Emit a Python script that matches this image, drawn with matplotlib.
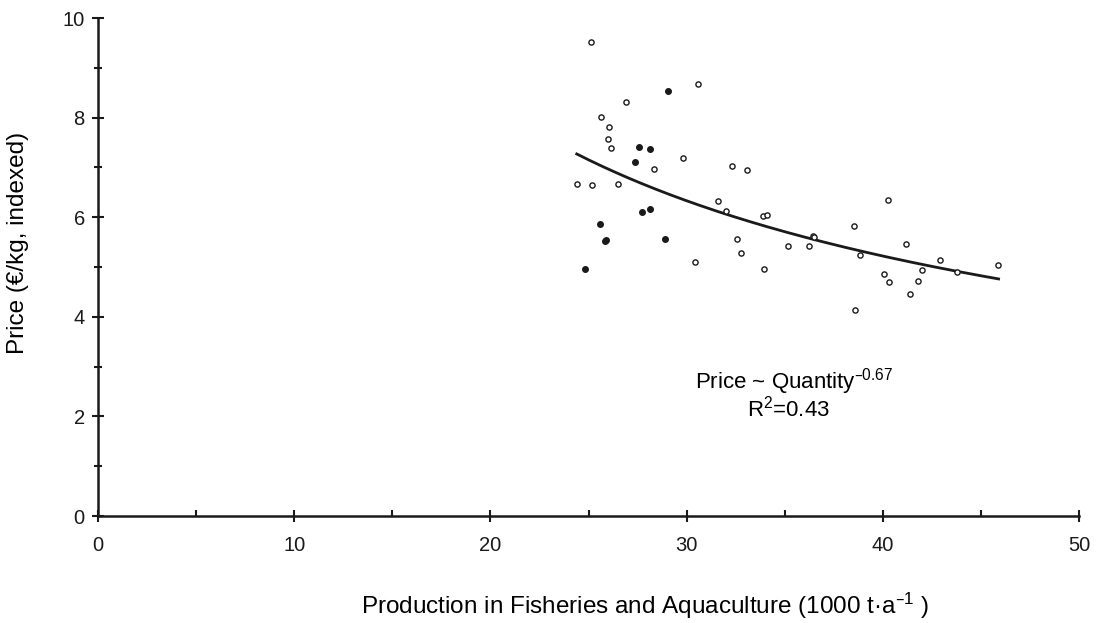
import matplotlib
matplotlib.use("Agg")
import matplotlib.pyplot as plt
import numpy as np

plt.rcParams['font.family'] = ['Liberation Sans', 'DejaVu Sans']
plt.rcParams['mathtext.default'] = 'regular'

# open circles
open_x = [25.13, 30.58, 26.89, 25.65, 26.03, 25.99, 26.13, 28.35, 29.80, 24.41,
          25.19, 26.49, 31.62, 32.02, 30.41, 32.31, 33.06, 33.87, 34.11, 32.55,
          32.76, 33.96, 35.15, 36.24, 36.43, 36.51, 40.27, 38.55, 38.82, 38.60,
          41.18, 40.08, 40.33, 41.40, 41.78, 42.00, 42.90, 43.80, 45.85]
open_y = [9.52, 8.68, 8.31, 8.01, 7.81, 7.58, 7.38, 6.97, 7.18, 6.66,
          6.64, 6.66, 6.33, 6.12, 5.10, 7.03, 6.95, 6.02, 6.04, 5.56,
          5.28, 4.97, 5.43, 5.42, 5.63, 5.60, 6.34, 5.83, 5.25, 4.13,
          5.46, 4.85, 4.69, 4.46, 4.72, 4.95, 5.14, 4.90, 5.04]

# filled circles
filled_x = [29.04, 27.57, 28.15, 27.37, 27.71, 28.13, 25.59, 25.89, 25.82, 28.88, 24.84]
filled_y = [8.54, 7.40, 7.36, 7.10, 6.10, 6.17, 5.86, 5.55, 5.52, 5.56, 4.97]

# power-law fit, Price ~ Quantity^-0.67
fit_exp = -0.67
fit_start, fit_end = 24.4, 45.9
fit_start_price = 7.27

fig = plt.figure(figsize=(11.05, 6.23), dpi=100)
ax = fig.add_axes([0.0887, 0.1717, 0.8878, 0.7994])

q = np.linspace(fit_start, fit_end, 200)
ax.plot(q, fit_start_price * (q / fit_start) ** fit_exp, color='#1a1a1a', lw=2.0, zorder=2)

ax.scatter(open_x, open_y, s=14, facecolors='white', edgecolors='#1a1a1a', linewidths=1.0, zorder=3)
ax.scatter(filled_x, filled_y, s=16, color='#1a1a1a', zorder=3)

ax.text(35.5, 2.57, 'Price ~ Quantity$^{\u20130.67}$', ha='center', va='baseline', fontsize=16)
ax.text(35.2, 1.99, 'R$^{2}$=0.43', ha='center', va='baseline', fontsize=16)

ax.set_xlim(0, 50)
ax.set_ylim(0, 10)
ax.set_xticks(range(0, 51, 10))
ax.set_xticks(range(5, 50, 10), minor=True)
ax.set_yticks(range(0, 11, 2))
ax.set_yticks(range(1, 10, 2), minor=True)

for s in ['top', 'right']:
    ax.spines[s].set_visible(False)
for s in ['left', 'bottom']:
    ax.spines[s].set_linewidth(1.8)
    ax.spines[s].set_color('#1a1a1a')

ax.tick_params(which='major', direction='inout', length=9, width=1.5, labelsize=14.5, colors='#1a1a1a')
ax.tick_params(which='minor', direction='inout', length=6, width=1.5, colors='#1a1a1a')
ax.tick_params(axis='x', which='minor', direction='in', length=4)
ax.tick_params(axis='x', which='major', pad=10)
ax.tick_params(axis='y', which='major', pad=5)

ax.set_xlabel('Production in Fisheries and Aquaculture (1000 t\u00b7a$^{\u20131}$ )', fontsize=17.5, va='center')
ax.xaxis.set_label_coords(0.558, -0.18)
ax.set_ylabel('Price (\u20ac/kg, indexed)', fontsize=17.5, va='center')
ax.yaxis.set_label_coords(-0.082, 0.548)

fig.savefig('out.png', dpi=100)
